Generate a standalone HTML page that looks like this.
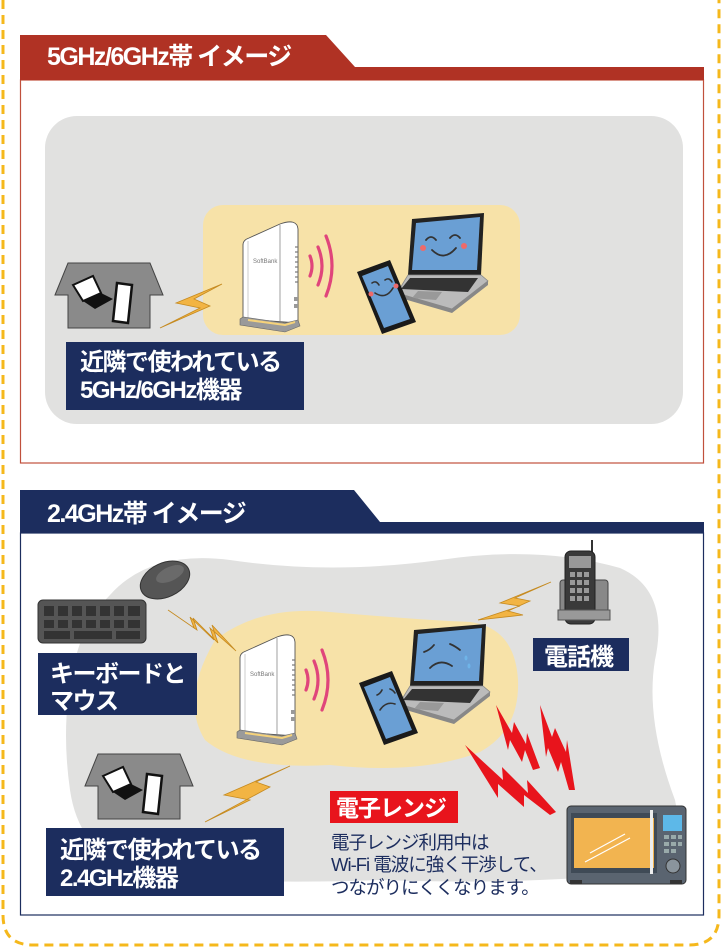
<!DOCTYPE html>
<html><head><meta charset="utf-8"><style>
html,body{margin:0;padding:0;background:#fff;}
svg{display:block;}
text{font-family:"Liberation Sans","Noto Sans CJK JP",sans-serif;}
</style></head><body>
<svg width="722" height="949" viewBox="0 0 722 949" xmlns="http://www.w3.org/2000/svg">
<defs>
<g id="router">
  <path d="M3,30 Q3,25 9,23 L40,9 Q57,3 58,14 L58,108 L3,104 Z" fill="#fff" stroke="#555" stroke-width="0.9"/>
  <path d="M8,26 L8,103" stroke="#aaa" stroke-width="0.6"/>
  <path d="M40,10 L40,106" stroke="#888" stroke-width="0.8"/>
  <g stroke="#777" stroke-width="1.2">
    <line x1="55" y1="32" x2="58" y2="32"/><line x1="55" y1="37" x2="58" y2="37"/><line x1="55" y1="42" x2="58" y2="42"/><line x1="55" y1="47" x2="58" y2="47"/><line x1="55" y1="52" x2="58" y2="52"/><line x1="55" y1="57" x2="58" y2="57"/><line x1="55" y1="62" x2="58" y2="62"/><line x1="55" y1="67" x2="58" y2="67"/>
  </g>
  <rect x="54" y="82" width="4" height="4" fill="#999"/><rect x="54" y="89" width="4" height="4" fill="#999"/>
  <text x="13" y="48" font-size="6" fill="#777" font-family="Liberation Serif,serif">SoftBank</text>
  <path d="M0,104 L3,102 L45,108 L58,105 L60,111 L45,117 L0,110 Z" fill="#9a9a9a" stroke="#666" stroke-width="0.6"/>
  <path d="M8,105 L45,110 L55,107" stroke="#f5d27a" stroke-width="2" fill="none"/>
</g>
<g id="waves" fill="none" stroke="#e0457b" stroke-width="3.2" stroke-linecap="round">
  <path d="M0,22 Q4,32 0,42"/>
  <path d="M8,13 Q16,32 8,51"/>
  <path d="M16,2 Q28,32 16,62"/>
</g>
<g id="laptopbody">
  <polygon points="412,219 484,213 481,275 408,275" fill="#222"/>
  <polygon points="416,223 480,217 477,270 412,270" fill="#6a9fd4"/>
  <polygon points="408,275 481,275 488,281 452,309 397,293" fill="#bbb" stroke="#888" stroke-width="0.8"/>
  <polygon points="410,278 478,278 468,292 401,289" fill="#333"/>
  <polygon points="418,291 442,292 436,300 412,298" fill="#999"/>
  <polygon points="452,309 488,281 488,285 452,313 397,297 397,293" fill="#888"/>
</g>
<g id="phonebody">
  <polygon points="357,272 390,260 416,322 382,334" fill="#1a1a1a"/>
  <polygon points="362,276 388,266 410,319 384,328" fill="#6a9fd4"/>
</g>
<g id="house">
  <polygon points="0,32 13,0 95,0 108,32 95,32 95,65 13,65 13,32" fill="#8a8a8a" stroke="#444" stroke-width="1"/>
  <polygon points="18,22 38,13 46,30 28,38" fill="#fff" stroke="#111" stroke-width="2"/>
  <polygon points="28,38 46,30 58,36 40,46" fill="#111"/>
  <polygon points="62,20 77,22 73,60 58,58" fill="#fff" stroke="#111" stroke-width="2.5"/>
</g>
</defs>

<path d="M3,0 L3,915 Q3,945 33,945 L689,945 Q719,945 719,915 L719,0" fill="none" stroke="#f5b81c" stroke-width="3" stroke-dasharray="9,6"/>

<!-- SECTION 1 -->
<rect x="20.5" y="80" width="683" height="383" fill="#fff" stroke="#c0503c" stroke-width="1.2"/>
<polygon points="20,35 326,35 355,67 704,67 704,80 20,80" fill="#b03224"/>
<text x="47" y="65" font-size="25" font-weight="bold" fill="#fff" letter-spacing="-1.5">5GHz/6GHz帯 イメージ</text>
<rect x="45" y="116" width="638" height="308" rx="32" fill="#e1e1e0"/>
<rect x="203" y="205" width="317" height="130" rx="20" fill="#f7e2a8"/>
<use href="#house" x="55" y="263"/>
<polygon points="160,328 200,308 176,303 222,284 194,299 210,306" fill="#f2b443" stroke="#c58a20" stroke-width="0.8"/>
<use href="#router" x="240" y="215"/>
<use href="#waves" x="310" y="234"/>
<use href="#laptopbody"/>
<g fill="none" stroke="#333" stroke-width="1.8" stroke-linecap="round">
  <path d="M426,240 Q431,234 436,240"/><path d="M450,238 Q455,232 460,238"/><path d="M432,250 Q444,262 456,248"/>
</g>
<circle cx="423" cy="248" r="3" fill="#ee6a6a"/><circle cx="464" cy="246" r="3" fill="#ee6a6a"/>
<use href="#phonebody"/>
<circle cx="371" cy="294" r="2.5" fill="#ee6a6a"/><circle cx="396" cy="286" r="2.5" fill="#ee6a6a"/>
<g fill="none" stroke="#333" stroke-width="1.6" stroke-linecap="round">
  <path d="M372,283 Q376,280 379,285"/><path d="M385,280 Q389,277 392,282"/><path d="M375,293 Q386,300 393,288"/>
</g>
<rect x="66" y="342" width="238" height="68" fill="#1c2d5e"/>
<text x="80" y="370" font-size="24" font-weight="bold" fill="#fff" letter-spacing="-1.5">近隣で使われている</text>
<text x="80" y="398" font-size="24" font-weight="bold" fill="#fff" letter-spacing="-1.5">5GHz/6GHz機器</text>

<!-- SECTION 2 -->
<rect x="20.5" y="533" width="683" height="382" fill="#fff" stroke="#1c2d5e" stroke-width="1.2"/>
<polygon points="20,490 354,490 380,522 704,522 704,533 20,533" fill="#1c2d5e"/>
<text x="47" y="522" font-size="25" font-weight="bold" fill="#fff" letter-spacing="-1.5">2.4GHz帯 イメージ</text>
<path d="M110,595 Q150,550 230,560 Q330,575 440,560 Q540,545 620,568 Q670,590 655,660 Q645,720 675,800 Q690,870 620,875 Q500,885 380,880 Q250,885 150,875 Q80,860 70,790 Q60,720 75,660 Q85,620 110,595 Z" fill="#e1e1e0"/>
<path d="M215,640 Q260,605 330,612 Q420,620 470,622 Q515,628 518,680 Q520,730 480,752 Q420,775 330,765 Q240,770 205,740 Q180,700 215,640 Z" fill="#f7e2a8"/>
<rect x="38" y="600" width="108" height="43" rx="5" fill="#555" stroke="#333"/>
<g fill="#333">
  <rect x="44" y="606" width="10" height="10"/><rect x="58" y="606" width="10" height="10"/><rect x="72" y="606" width="10" height="10"/><rect x="86" y="606" width="10" height="10"/><rect x="100" y="606" width="10" height="10"/><rect x="114" y="606" width="10" height="10"/><rect x="128" y="606" width="12" height="10"/>
  <rect x="44" y="620" width="10" height="8"/><rect x="58" y="620" width="10" height="8"/><rect x="72" y="620" width="10" height="8"/><rect x="86" y="620" width="10" height="8"/><rect x="100" y="620" width="10" height="8"/><rect x="114" y="620" width="10" height="8"/><rect x="128" y="620" width="12" height="8"/>
  <rect x="44" y="631" width="26" height="8"/><rect x="74" y="631" width="38" height="8"/><rect x="116" y="631" width="24" height="8"/>
</g>
<ellipse cx="165" cy="580" rx="26" ry="17" transform="rotate(-25 165 580)" fill="#555" stroke="#333"/>
<ellipse cx="170" cy="574" rx="15" ry="7" transform="rotate(-25 170 574)" fill="#6a6a6a"/>
<polygon points="168,610 197,630 193,618 218,643 212,625 236,651 210,628 214,640 190,617 194,628" fill="#f2b443" stroke="#c58a20" stroke-width="0.8"/>
<rect x="38" y="653" width="159" height="62" fill="#1c2d5e"/>
<text x="50" y="682" font-size="24" font-weight="bold" fill="#fff" letter-spacing="-1.5">キーボードと</text>
<text x="50" y="709" font-size="24" font-weight="bold" fill="#fff" letter-spacing="-1.5">マウス</text>
<use href="#router" x="237" y="628"/>
<use href="#waves" x="306" y="648"/>
<g transform="translate(2,411)"><use href="#laptopbody"/></g>
<g fill="none" stroke="#333" stroke-width="1.8" stroke-linecap="round">
  <path d="M424,652 Q430,650 434,645"/><path d="M450,644 Q455,646 460,650"/><path d="M430,668 Q440,658 452,666"/>
</g>
<g fill="#6fb4e8"><ellipse cx="466" cy="658" rx="1.5" ry="2.5"/><ellipse cx="469" cy="666" rx="1.5" ry="2.5"/></g>
<g transform="translate(2,411)"><use href="#phonebody"/></g>
<g fill="none" stroke="#333" stroke-width="1.6" stroke-linecap="round">
  <path d="M377,695 Q380,694 382,690"/><path d="M390,689 Q393,690 395,693"/><path d="M380,710 Q386,701 395,704"/>
</g>
<line x1="592" y1="540" x2="592" y2="555" stroke="#333" stroke-width="2"/>
<rect x="560" y="580" width="48" height="32" rx="3" fill="#888" stroke="#444"/>
<rect x="565" y="551" width="30" height="73" rx="6" fill="#3a3a3a" stroke="#222"/>
<rect x="569" y="556" width="22" height="12" fill="#999"/>
<g fill="#999">
  <rect x="570" y="572" width="5" height="5"/><rect x="577" y="572" width="5" height="5"/><rect x="584" y="572" width="5" height="5"/>
  <rect x="570" y="580" width="5" height="5"/><rect x="577" y="580" width="5" height="5"/><rect x="584" y="580" width="5" height="5"/>
  <rect x="570" y="588" width="5" height="5"/><rect x="577" y="588" width="5" height="5"/><rect x="584" y="588" width="5" height="5"/>
  <rect x="570" y="596" width="5" height="5"/><rect x="577" y="596" width="5" height="5"/><rect x="584" y="596" width="5" height="5"/>
</g>
<rect x="558" y="610" width="52" height="10" fill="#999" stroke="#555"/>
<polygon points="478,620 520,606 500,603 551,582 515,598 530,601 508,611 523,615" fill="#f2b443" stroke="#c58a20" stroke-width="0.8"/>
<rect x="533" y="638" width="96" height="33" fill="#1c2d5e"/>
<text x="544" y="665" font-size="24" fill="#fff" font-weight="bold" letter-spacing="-1">電話機</text>
<use href="#house" x="85" y="754"/>
<polygon points="205,822 250,800 224,795 290,766 256,782 270,787" fill="#f2b443" stroke="#c58a20" stroke-width="0.8"/>
<rect x="46" y="828" width="238" height="68" fill="#1c2d5e"/>
<text x="60" y="858" font-size="24" font-weight="bold" fill="#fff" letter-spacing="-1.5">近隣で使われている</text>
<text x="60" y="886" font-size="24" font-weight="bold" fill="#fff" letter-spacing="-1.5">2.4GHz機器</text>
<g fill="#e8141c">
  <polygon points="496,705 512,733 514,722 526,744 527,733 540,768 533,770 525,750 522,762 510,740 508,750"/>
  <polygon points="540,705 552,737 555,728 566,752 567,740 575,790 569,790 561,762 558,772 548,748 546,757"/>
  <polygon points="465,745 503,780 502,767 528,793 527,780 556,812 550,815 524,795 524,807 498,784 498,798"/>
</g>
<rect x="567" y="806" width="119" height="78" rx="4" fill="#5a6470" stroke="#333"/>
<rect x="571" y="813" width="86" height="60" fill="#3f4a56"/>
<rect x="574" y="818" width="80" height="50" fill="#f2b450"/>
<line x1="590" y1="853" x2="625" y2="834" stroke="#fff" stroke-width="1.2"/>
<line x1="585" y1="862" x2="630" y2="838" stroke="#fff" stroke-width="1.2"/>
<rect x="650" y="810" width="3" height="64" fill="#eee"/>
<rect x="663" y="815" width="19" height="16" fill="#5db8e8"/>
<g fill="#9aa"><rect x="664" y="835" width="5" height="4"/><rect x="671" y="835" width="5" height="4"/><rect x="678" y="835" width="4" height="4"/><rect x="664" y="842" width="5" height="4"/><rect x="671" y="842" width="5" height="4"/><rect x="678" y="842" width="4" height="4"/><rect x="664" y="849" width="5" height="4"/><rect x="671" y="849" width="5" height="4"/></g>
<circle cx="673" cy="866" r="7" fill="#8a949c" stroke="#333"/>
<rect x="570" y="880" width="12" height="4" fill="#333"/><rect x="670" y="880" width="12" height="4" fill="#333"/>
<rect x="330" y="791" width="128" height="32" fill="#e8141c"/>
<text x="336" y="816" font-size="23" font-weight="bold" fill="#fff" letter-spacing="-1">電子レンジ</text>
<text x="331" y="849" font-size="18.5" fill="#1c2d5e" letter-spacing="-1">電子レンジ利用中は</text>
<text x="331" y="871" font-size="18.5" fill="#1c2d5e" letter-spacing="-1">Wi-Fi 電波に強く干渉して、</text>
<text x="331" y="894" font-size="18.5" fill="#1c2d5e" letter-spacing="-1">つながりにくくなります。</text>
</svg>
</body></html>
